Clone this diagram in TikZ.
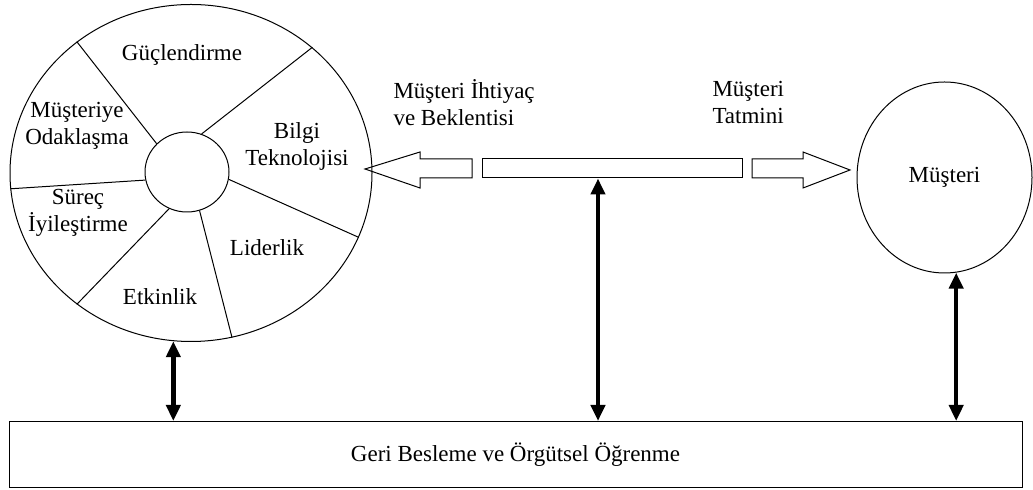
\documentclass[tikz,border=0pt]{standalone}
\usepackage{fontspec}
\setmainfont{Liberation Serif}
\usetikzlibrary{arrows.meta, shapes.geometric}

\begin{document}
\begin{tikzpicture}[x=0.5pt, y=-0.5pt, line width=0.5pt,
    font=\rmfamily\fontsize{11.5}{13.5}\selectfont]
\useasboundingbox (0, 0) rectangle (1033, 490);

\begin{scope}[every node/.style={draw, inner sep=0pt}]
    \node (wheel) at (191, 173) [ellipse, minimum width=181pt, minimum height=168.5pt] {};
    \node (hub) at (187, 172) [ellipse, minimum width=42pt, minimum height=40pt] {};
    \node (bar) at (612, 168.5) [rectangle, minimum width=130pt, minimum height=9.5pt] {};
    \node (customer) at (944.5, 177.5) [ellipse, minimum width=87.5pt, minimum height=95.5pt] {Müşteri};
    \node (feedback) at (515.5, 454.5) [rectangle, minimum width=506.5pt, minimum height=33pt] {Geri Besleme ve Örgütsel Öğrenme};
\end{scope}

% wheel spokes
\draw (hub.137) -- (wheel.131);
\draw (hub.69) -- (wheel.46);
\draw (hub.-10) -- (wheel.-21);
\draw (hub.191) -- (wheel.185);
\draw (hub.244) -- (wheel.229);
\draw (hub.288) -- (wheel.284);

\begin{scope}[every node/.style={align=center, inner sep=0pt}]
    \node (power) at (182, 55) {Güçlendirme};
    \node (focus) at (77, 126) {Müşteriye\\Odaklaşma};
    \node (infotech) at (297, 146) {Bilgi\\Teknolojisi};
    \node (process) at (78, 213) {Süreç\\İyileştirme};
    \node (leader) at (267, 248) {Liderlik};
    \node (effect) at (160, 297) {Etkinlik};
    \node (needs) at (393, 102.5) [anchor=west, align=left] {Müşteri İhtiyaç\\ve Beklentisi};
    \node (satisf) at (712, 102.5) [anchor=west, align=left] {Müşteri\\Tatmini};
\end{scope}

% hollow block arrows
\coordinate (ltip) at (365, 169);
\draw (ltip) -- ++(55, -17) -- ++(0, 7) -- ++(52, 0) -- ++(0, 19) -- ++(-52, 0) -- ++(0, 10) -- cycle;
\coordinate (rtip) at (850, 170);
\draw (rtip) -- ++(-47, -18) -- ++(0, 7) -- ++(-51, 0) -- ++(0, 19) -- ++(51, 0) -- ++(0, 10) -- cycle;

\begin{scope}[>={Triangle[length=8pt, width=7pt]},
              every edge/.style={draw, line width=2.2pt}]
    \path [<->] (wheel.264) edge (wheel.264 |- feedback.north);
    \path [<->] ([xshift=-7pt]bar.south) edge ([xshift=-7pt]bar.south |- feedback.north);
    \path [<->] (customer.-83) edge (customer.-83 |- feedback.north);
\end{scope}
\end{tikzpicture}
\end{document}
